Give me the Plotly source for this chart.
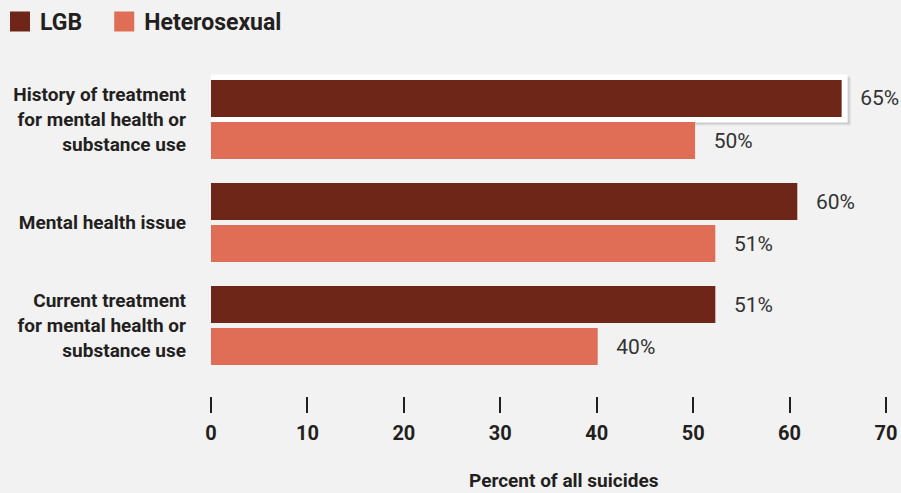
import plotly.graph_objects as go

categories = [
    "History of treatment<br>for mental health or<br>substance use",
    "Mental health issue",
    "Current treatment<br>for mental health or<br>substance use",
]
series_names = ["LGB", "Heterosexual"]
lgb_values = [65.4, 60.8, 52.3]
het_values = [50.2, 52.3, 40.1]
lgb_labels = ["65%", "60%", "51%"]
het_labels = ["50%", "51%", "40%"]
x_ticks = [0, 10, 20, 30, 40, 50, 60, 70]

LGB_COLOR = "#6d2617"
HET_COLOR = "#e06e56"
TEXT = "#231f20"
BG = "#f2f2f2"
FONT = "Roboto"

BARGAP = 0.184
BARGROUPGAP = 0.119

legend_names = [series_names[0] + "\u00a0" * 3, series_names[1]]

fig = go.Figure()
for name, lname, vals, labels, color in [
    (series_names[0], legend_names[0], lgb_values, lgb_labels, LGB_COLOR),
    (series_names[1], legend_names[1], het_values, het_labels, HET_COLOR),
]:
    fig.add_trace(go.Bar(
        x=vals, y=categories, orientation="h", name=name,
        marker=dict(color=color, line=dict(width=0)),
        text=["   " + t for t in labels], textposition="outside",
        textfont=dict(family=FONT, size=21, color="#333333"),
        constraintext="none", cliponaxis=False, showlegend=False,
        hoverinfo="x+y",
    ))
    # legend-only entry with a larger square
    fig.add_trace(go.Scatter(
        x=[None], y=[None], mode="markers", name=lname,
        marker=dict(symbol="square", size=16, color=color,
                    line=dict(color=color, width=4)),
        showlegend=True,
    ))

# highlight box around the first LGB bar (derived from bar geometry)
slot = (1 - BARGAP) / 2
thick = slot * (1 - BARGROUPGAP)
c0 = 0 - slot / 2
ypad = 0.053
y0 = c0 - thick / 2 - ypad
y1 = c0 + thick / 2 + ypad
x0 = -0.73
x1 = lgb_values[0] + 0.62
for dx, dy, col in [(0.35, 0.03, "rgba(0,0,0,0.06)"), (0.2, 0.018, "rgba(0,0,0,0.10)")]:
    fig.add_shape(type="rect", xref="x", yref="y", x0=x0 + dx, x1=x1 + dx,
                  y0=y0 + dy, y1=y1 + dy, fillcolor=col, line=dict(width=0),
                  layer="below")
fig.add_shape(type="rect", xref="x", yref="y", x0=x0, x1=x1, y0=y0, y1=y1,
              fillcolor="white", line=dict(width=0), layer="below")

fig.update_layout(
    width=901, height=493,
    margin=dict(l=211, r=15, t=68, b=97, autoexpand=False),
    paper_bgcolor=BG, plot_bgcolor=BG,
    barmode="group", bargap=BARGAP, bargroupgap=BARGROUPGAP,
    font=dict(family=FONT, color=TEXT),
    legend=dict(orientation="h", xref="container", yref="container",
                x=0.0, y=1.0, xanchor="left", yanchor="top",
                font=dict(family=FONT, size=23, color=TEXT, weight="bold"),
                bgcolor="rgba(0,0,0,0)"),
    xaxis=dict(range=[0, 70], tickvals=x_ticks, ticktext=[str(v) for v in x_ticks],
               showgrid=False, zeroline=False, showline=False, automargin=False,
               ticks="outside", ticklen=16, tickwidth=2, tickcolor=TEXT,
               ticklabelstandoff=3,
               tickfont=dict(family=FONT, size=20, color=TEXT, weight="bold")),
    yaxis=dict(type="category", range=[2.684, -0.5], showgrid=False, zeroline=False,
               showline=False, ticks="", ticklabelstandoff=24, automargin=False,
               tickfont=dict(family=FONT, size=19, color=TEXT, weight="bold")),
    annotations=[dict(text="Percent of all suicides", xref="paper", yref="paper",
                      x=0.523, y=-0.259, xanchor="center", yanchor="middle",
                      showarrow=False,
                      font=dict(family=FONT, size=19, color=TEXT, weight="bold"))],
)

fig.write_html("out.html", config={"displayModeBar": False},
               post_script="document.body.style.margin='0';")
